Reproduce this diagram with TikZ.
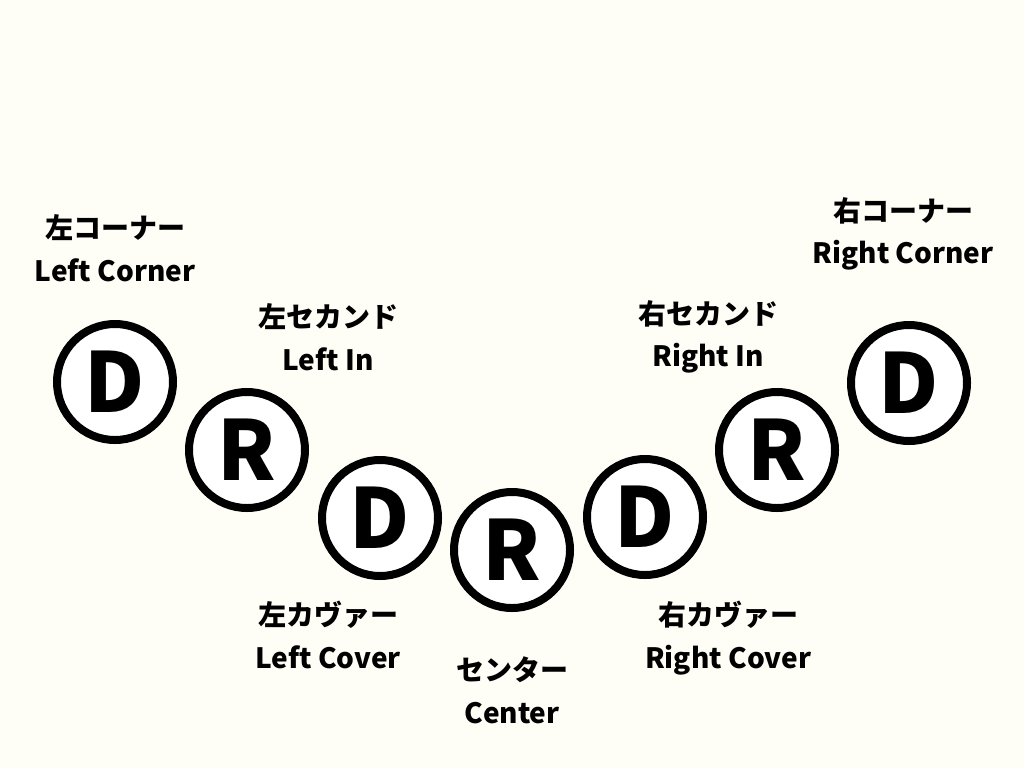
\documentclass[tikz,border=0pt]{standalone}
\usepackage{fontspec}
\setmainfont{Noto Sans CJK JP}
\usetikzlibrary{positioning}
\definecolor{bgcream}{HTML}{FEFEF6}
\tikzset{
  player/.style={circle,draw=black,fill=white,line width=6pt,minimum size=87pt,inner sep=0pt,
    font=\fontsize{62}{62}\selectfont\bfseries},
  poslabel/.style={align=center,font=\fontsize{21}{32}\selectfont\bfseries}
}
\begin{document}
\begin{tikzpicture}[x=0.75pt,y=-0.75pt]
	\fill[bgcream] (0,0) rectangle (1024,768);
	\useasboundingbox (0,0) rectangle (1024,768);
	% players
	\node[player] (lc) at (115,382) {D};
	\node[player] (li) at (247,450) {R};
	\node[player] (lv) at (380,518) {D};
	\node[player] (c) at (512,550) {R};
	\node[player] (rv) at (645,517) {D};
	\node[player] (ri) at (777,450) {R};
	\node[player] (rc) at (909,383) {D};
	% labels
	\node[poslabel] (lct) at (115,248) {左コーナー\\Left Corner};
	\node[poslabel] (lit) at (328,337) {左セカンド\\Left In};
	\node[poslabel] (lvt) at (328,635) {左カヴァー\\Left Cover};
	\node[poslabel] (ct) at (512,690) {センター\\Center};
	\node[poslabel] (rvt) at (728,638) {右カヴァー\\Right Cover};
	\node[poslabel] (rit) at (708,337) {右セカンド\\Right In};
	\node[poslabel] (rct) at (903,234) {右コーナー\\Right Corner};
\end{tikzpicture}
\end{document}
